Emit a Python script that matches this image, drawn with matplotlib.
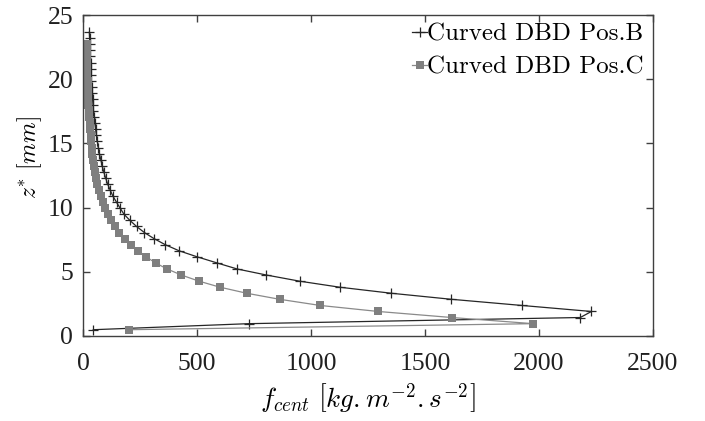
import matplotlib
matplotlib.use("Agg")
import matplotlib.pyplot as plt

plt.rcParams['font.family'] = ['cmr10', 'DejaVu Serif']
plt.rcParams['mathtext.fontset'] = 'cm'
plt.rcParams['axes.unicode_minus'] = False
plt.rcParams['axes.formatter.use_mathtext'] = True

# z* [mm] grid
z_b = [0.49, 0.96, 1.44, 1.91, 2.38, 2.86, 3.33, 3.80, 4.27, 4.75,
       5.22, 5.69, 6.17, 6.64, 7.11, 7.59, 8.06, 8.53, 9.00, 9.48,
       9.95, 10.42, 10.90, 11.37, 11.84, 12.32, 12.79, 13.26, 13.73, 14.21,
       14.68, 15.15, 15.63, 16.10, 16.57, 17.05, 17.52, 17.99, 18.46, 18.94,
       19.41, 19.88, 20.36, 20.83, 21.30, 21.78, 22.25, 22.72, 23.20, 23.67]
f_b = [45, 726, 2181, 2230, 1924, 1615, 1352, 1126, 950, 804,
       676, 588, 500, 421, 361, 311, 269, 235, 206, 180,
       163, 147, 131, 119, 108, 99, 91, 84, 78, 72,
       67, 63, 59, 55, 52, 49, 46, 44, 42, 40,
       38, 36, 35, 34, 33, 32, 31, 30, 29, 28]

z_c = [0.49, 0.96, 1.44, 1.91, 2.38, 2.86, 3.33, 3.80, 4.27, 4.75,
       5.22, 5.69, 6.17, 6.64, 7.11, 7.59, 8.06, 8.53, 9.00, 9.48,
       9.95, 10.42, 10.90, 11.37, 11.84, 12.32, 12.79, 13.26, 13.73, 14.21,
       14.68, 15.15, 15.63, 16.10, 16.57, 17.05, 17.52, 17.99, 18.46, 18.94,
       19.41, 19.88, 20.36, 20.83, 21.30, 21.78, 22.25, 22.72]
f_c = [200, 1975, 1617, 1295, 1040, 862, 718, 601, 509, 431,
       369, 318, 277, 242, 210, 183, 160, 140, 123, 109,
       97, 87, 78, 70, 63, 58, 53, 48, 44, 41,
       38, 35, 33, 31, 29, 27, 25, 24, 23, 22,
       21, 20, 19, 18, 17, 17, 16, 16]

labels = ['Curved DBD Pos.B', 'Curved DBD Pos.C']
xticks = [0, 500, 1000, 1500, 2000, 2500]
yticks = [0, 5, 10, 15, 20, 25]

fig = plt.figure(figsize=(7.05, 4.21), dpi=100)
ax = fig.add_axes([83/705, 1 - 336/421, (653 - 83)/705, (336 - 15)/421])

ax.plot(f_b, z_b, color='#262626', lw=0.9, marker='+', ms=7, mew=0.9,
        mec='#262626', label=labels[0])
ax.plot(f_c, z_c, color='#8a8a8a', lw=0.9, marker='s', ms=5.5, mew=0,
        mfc='#7f7f7f', label=labels[1])

ax.set_xlim(0, 2500)
ax.set_ylim(0, 25)
ax.set_xticks(xticks)
ax.set_yticks(yticks)
tick_font = dict(fontfamily='Liberation Serif', fontsize=18.5, color='#202020')
ax.set_xticklabels([str(v) for v in xticks], **tick_font)
ax.set_yticklabels([str(v) for v in yticks], **tick_font)
ax.tick_params(direction='in', top=True, right=True, length=5, width=1,
               color='#404040')
ax.tick_params(axis='x', pad=12)
ax.tick_params(axis='y', pad=7)
for s in ax.spines.values():
    s.set_color('#404040')
    s.set_linewidth(1.0)

ax.set_xlabel(r'$f_{cent}\ \left[kg{.}m^{-2}{.}s^{-2}\right]$', fontsize=19.5,
              labelpad=5)
ax.set_ylabel(r'$z^{*}\ [mm]$', fontsize=17)
ax.yaxis.set_label_coords(-0.068, 0.555)

leg = ax.legend(loc='upper right', frameon=False, fontsize=18,
                handlelength=0.6, handletextpad=0.0, borderaxespad=0.0,
                labelspacing=0.42, borderpad=0.25,
                bbox_to_anchor=(0.995, 0.995))

fig.savefig('out.png', dpi=100)
